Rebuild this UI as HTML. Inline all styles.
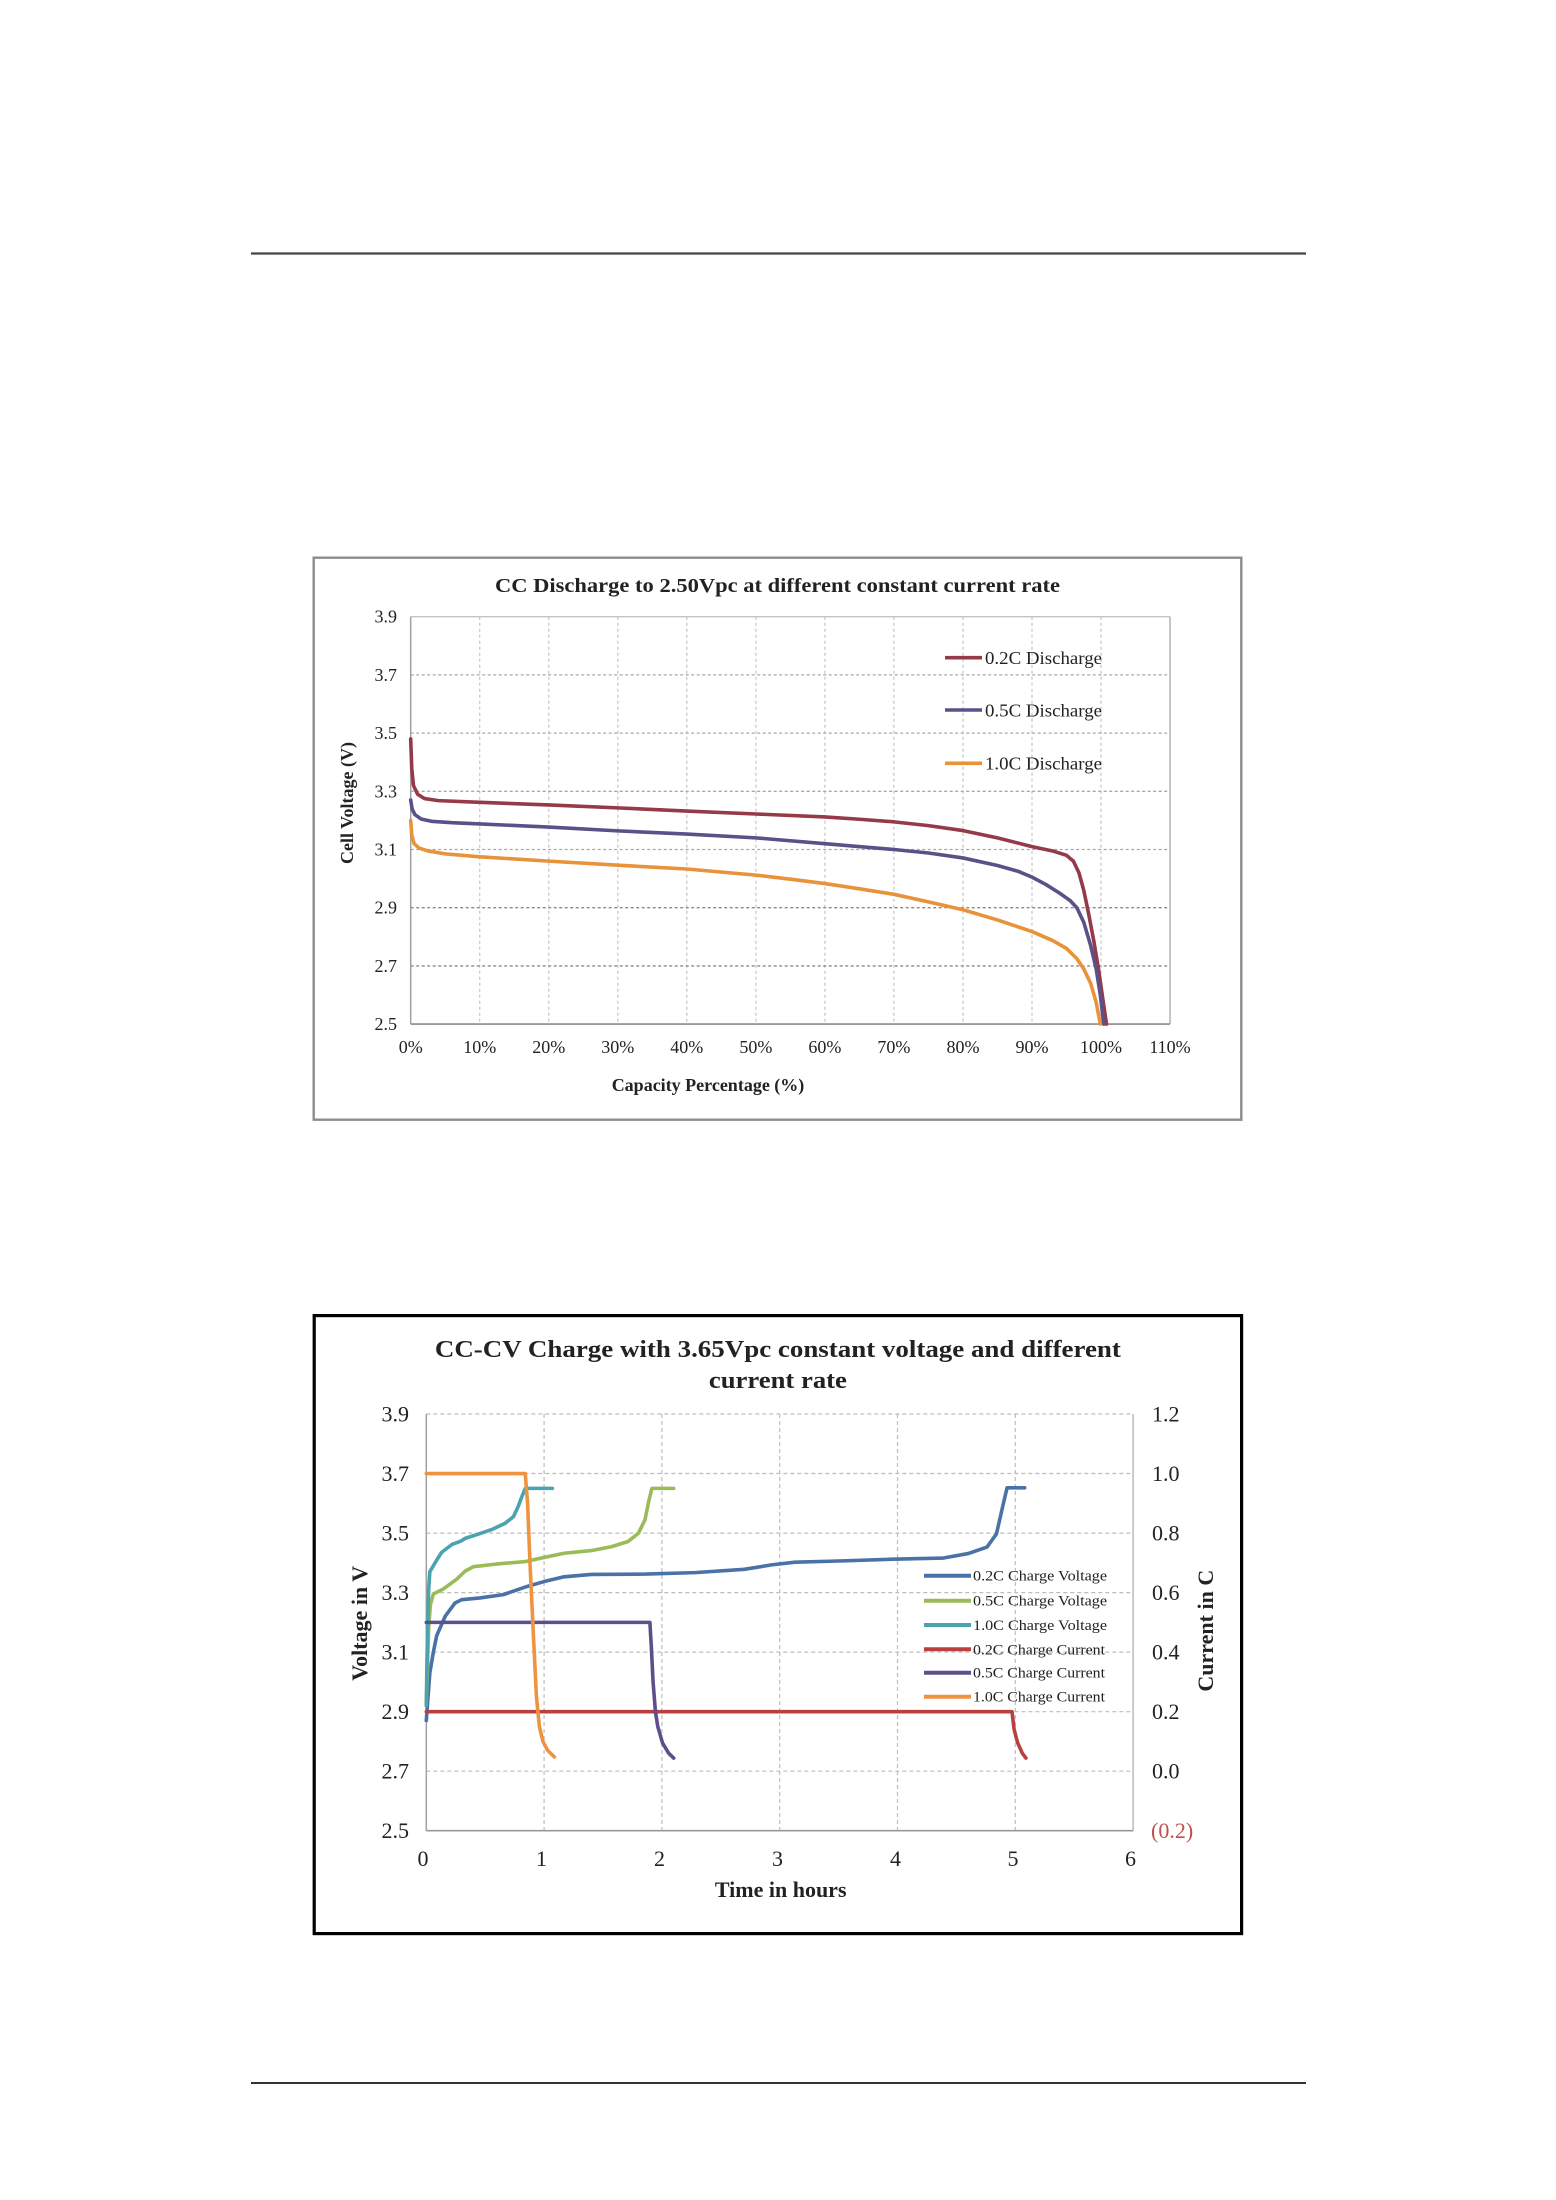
<!DOCTYPE html>
<html>
<head>
<meta charset="utf-8">
<style>
  html, body { margin: 0; padding: 0; background: #ffffff; }
  svg { display: block; }
  text { font-family: "Liberation Serif", "Times New Roman", serif; fill: #222; }
  .b { font-weight: bold; }
</style>
</head>
<body>
<svg width="1556" height="2200" viewBox="0 0 1556 2200" xmlns="http://www.w3.org/2000/svg">
  <rect x="0" y="0" width="1556" height="2200" fill="#ffffff"/>

  <!-- page rules -->
  <line x1="251" y1="253.5" x2="1306" y2="253.5" stroke="#444" stroke-width="2.2"/>
  <line x1="251" y1="2083" x2="1306" y2="2083" stroke="#333" stroke-width="2"/>

  <!-- ================= CHART 1 ================= -->
  <rect x="313.7" y="557.7" width="927.6" height="562" fill="#fff" stroke="#8c8c8c" stroke-width="2.4"/>

  <text class="b" x="777.5" y="592" font-size="20" text-anchor="middle" textLength="565" lengthAdjust="spacingAndGlyphs">CC Discharge to 2.50Vpc at different constant current rate</text>

  <!-- grid -->
  <g stroke="#c4c4c4" stroke-width="1.2" stroke-dasharray="3,3">
    <line x1="479.7" y1="616.7" x2="479.7" y2="1024.1"/>
    <line x1="548.8" y1="616.7" x2="548.8" y2="1024.1"/>
    <line x1="617.8" y1="616.7" x2="617.8" y2="1024.1"/>
    <line x1="686.8" y1="616.7" x2="686.8" y2="1024.1"/>
    <line x1="755.9" y1="616.7" x2="755.9" y2="1024.1"/>
    <line x1="824.9" y1="616.7" x2="824.9" y2="1024.1"/>
    <line x1="893.9" y1="616.7" x2="893.9" y2="1024.1"/>
    <line x1="963.0" y1="616.7" x2="963.0" y2="1024.1"/>
    <line x1="1032.0" y1="616.7" x2="1032.0" y2="1024.1"/>
    <line x1="1101.0" y1="616.7" x2="1101.0" y2="1024.1"/>
  </g>
  <g stroke="#a8a8a8" stroke-width="1.3" stroke-dasharray="3,2.5">
    <line x1="410.7" y1="674.9" x2="1170" y2="674.9"/>
    <line x1="410.7" y1="733.1" x2="1170" y2="733.1"/>
    <line x1="410.7" y1="791.3" x2="1170" y2="791.3"/>
    <line x1="410.7" y1="849.5" x2="1170" y2="849.5"/>
  </g>
  <g stroke="#8a8a8a" stroke-width="1.4" stroke-dasharray="3,2.5">
    <line x1="410.7" y1="907.7" x2="1170" y2="907.7"/>
    <line x1="410.7" y1="965.9" x2="1170" y2="965.9"/>
  </g>
  <line x1="410.7" y1="616.7" x2="1170" y2="616.7" stroke="#bcc6cc" stroke-width="1.3"/>
  <line x1="1170" y1="616.7" x2="1170" y2="1024.1" stroke="#a8a8a8" stroke-width="1.3"/>
  <line x1="410.7" y1="616.7" x2="410.7" y2="1024.1" stroke="#a0a0a0" stroke-width="1.5"/>
  <line x1="410.7" y1="1024.1" x2="1170" y2="1024.1" stroke="#8a8a8a" stroke-width="1.6"/>

  <!-- y tick labels -->
  <g font-size="18" text-anchor="end">
    <text x="397" y="622.7">3.9</text>
    <text x="397" y="680.9">3.7</text>
    <text x="397" y="739.1">3.5</text>
    <text x="397" y="797.3">3.3</text>
    <text x="397" y="855.5">3.1</text>
    <text x="397" y="913.7">2.9</text>
    <text x="397" y="971.9">2.7</text>
    <text x="397" y="1030.1">2.5</text>
  </g>
  <!-- x tick labels -->
  <g font-size="18" text-anchor="middle">
    <text x="410.7" y="1053">0%</text>
    <text x="479.7" y="1053">10%</text>
    <text x="548.8" y="1053">20%</text>
    <text x="617.8" y="1053">30%</text>
    <text x="686.8" y="1053">40%</text>
    <text x="755.9" y="1053">50%</text>
    <text x="824.9" y="1053">60%</text>
    <text x="893.9" y="1053">70%</text>
    <text x="963.0" y="1053">80%</text>
    <text x="1032.0" y="1053">90%</text>
    <text x="1101.0" y="1053">100%</text>
    <text x="1170.0" y="1053">110%</text>
  </g>
  <text class="b" x="708" y="1091" font-size="18" text-anchor="middle">Capacity Percentage (%)</text>
  <text class="b" font-size="18" text-anchor="middle" transform="translate(353,803) rotate(-90)">Cell Voltage (V)</text>

  <!-- curves chart 1 -->
  <g transform="matrix(6.903 0 0 -291.0 410.7 1751.6)" fill="none" stroke-linejoin="round" stroke-linecap="round">
    <polyline vector-effect="non-scaling-stroke" stroke="#953A48" stroke-width="3.6"
      points="0,3.48 0.15,3.38 0.4,3.32 1,3.29 2,3.275 4,3.268 10,3.262 20,3.253 30,3.243 40,3.232 50,3.222 60,3.212 65,3.204 70,3.195 75,3.182 80,3.165 85,3.14 90,3.11 93,3.095 95,3.08 96,3.06 96.8,3.02 97.5,2.96 98.2,2.88 99,2.78 99.7,2.68 100.3,2.58 100.8,2.5"/>
    <polyline vector-effect="non-scaling-stroke" stroke="#5B5088" stroke-width="3.6"
      points="0,3.27 0.2,3.24 0.6,3.22 1.5,3.205 3,3.197 6,3.192 10,3.188 20,3.177 30,3.164 40,3.153 50,3.14 60,3.12 70,3.1 75,3.088 80,3.071 85,3.045 88,3.025 90,3.005 92,2.98 94,2.95 95.5,2.925 96.5,2.9 97.5,2.85 98.5,2.77 99.3,2.69 99.9,2.6 100.4,2.5"/>
    <polyline vector-effect="non-scaling-stroke" stroke="#E8923A" stroke-width="3.6"
      points="0,3.2 0.15,3.15 0.5,3.12 1.2,3.105 2.5,3.095 5,3.085 10,3.075 20,3.06 30,3.046 40,3.033 50,3.012 55,2.998 60,2.983 65,2.965 70,2.946 75,2.92 80,2.893 85,2.858 90,2.818 93,2.787 95,2.76 96.5,2.725 97.5,2.69 98.5,2.64 99.3,2.575 99.9,2.5"/>
  </g>

  <!-- legend chart 1 -->
  <line x1="945" y1="657.7" x2="982" y2="657.7" stroke="#953A48" stroke-width="3.6"/>
  <line x1="945" y1="710" x2="982" y2="710" stroke="#5B5088" stroke-width="3.6"/>
  <line x1="945" y1="763.3" x2="982" y2="763.3" stroke="#E8923A" stroke-width="3.6"/>
  <g font-size="18">
    <text x="985" y="664" textLength="117" lengthAdjust="spacingAndGlyphs">0.2C Discharge</text>
    <text x="985" y="716.3" textLength="117" lengthAdjust="spacingAndGlyphs">0.5C Discharge</text>
    <text x="985" y="769.6" textLength="117" lengthAdjust="spacingAndGlyphs">1.0C Discharge</text>
  </g>

  <!-- ================= CHART 2 ================= -->
  <rect x="314.2" y="1315.6" width="927.4" height="618" fill="#fff" stroke="#000" stroke-width="3.2"/>

  <text class="b" x="777.9" y="1357" font-size="24" text-anchor="middle" textLength="686" lengthAdjust="spacingAndGlyphs">CC-CV Charge with 3.65Vpc constant voltage and different</text>
  <text class="b" x="777.9" y="1388" font-size="24" text-anchor="middle" textLength="138" lengthAdjust="spacingAndGlyphs">current rate</text>

  <!-- grid -->
  <g stroke="#bdbdbd" stroke-width="1.2" stroke-dasharray="4,3">
    <line x1="544.1" y1="1414" x2="544.1" y2="1830.7"/>
    <line x1="661.9" y1="1414" x2="661.9" y2="1830.7"/>
    <line x1="779.7" y1="1414" x2="779.7" y2="1830.7"/>
    <line x1="897.5" y1="1414" x2="897.5" y2="1830.7"/>
    <line x1="1015.3" y1="1414" x2="1015.3" y2="1830.7"/>
    <line x1="426.3" y1="1414" x2="1133.1" y2="1414"/>
    <line x1="426.3" y1="1473.5" x2="1133.1" y2="1473.5"/>
    <line x1="426.3" y1="1533.1" x2="1133.1" y2="1533.1"/>
    <line x1="426.3" y1="1592.6" x2="1133.1" y2="1592.6"/>
    <line x1="426.3" y1="1652.1" x2="1133.1" y2="1652.1"/>
    <line x1="426.3" y1="1711.7" x2="1133.1" y2="1711.7"/>
    <line x1="426.3" y1="1771.2" x2="1133.1" y2="1771.2"/>
  </g>
  <line x1="1133.1" y1="1414" x2="1133.1" y2="1830.7" stroke="#b0b0b0" stroke-width="1.3"/>
  <line x1="426.3" y1="1414" x2="426.3" y2="1830.7" stroke="#a0a0a0" stroke-width="1.5"/>
  <line x1="426.3" y1="1830.7" x2="1133.1" y2="1830.7" stroke="#999" stroke-width="1.6"/>

  <!-- left ticks -->
  <g font-size="22" text-anchor="end">
    <text x="409" y="1421.5">3.9</text>
    <text x="409" y="1481">3.7</text>
    <text x="409" y="1540.6">3.5</text>
    <text x="409" y="1600.1">3.3</text>
    <text x="409" y="1659.6">3.1</text>
    <text x="409" y="1719.2">2.9</text>
    <text x="409" y="1778.7">2.7</text>
    <text x="409" y="1838.2">2.5</text>
  </g>
  <!-- right ticks -->
  <g font-size="22" text-anchor="start">
    <text x="1152" y="1421.5">1.2</text>
    <text x="1152" y="1481">1.0</text>
    <text x="1152" y="1540.6">0.8</text>
    <text x="1152" y="1600.1">0.6</text>
    <text x="1152" y="1659.6">0.4</text>
    <text x="1152" y="1719.2">0.2</text>
    <text x="1152" y="1778.7">0.0</text>
    <text x="1151" y="1838.2" style="fill:#C0504D">(0.2)</text>
  </g>
  <!-- x ticks -->
  <g font-size="22" text-anchor="middle">
    <text x="423" y="1866">0</text>
    <text x="541.5" y="1866">1</text>
    <text x="659.5" y="1866">2</text>
    <text x="777.5" y="1866">3</text>
    <text x="895.5" y="1866">4</text>
    <text x="1013" y="1866">5</text>
    <text x="1130.5" y="1866">6</text>
  </g>
  <text class="b" x="780.7" y="1897" font-size="22" text-anchor="middle">Time in hours</text>
  <text class="b" font-size="22" text-anchor="middle" transform="translate(367,1623.3) rotate(-90)">Voltage in V</text>
  <text class="b" font-size="22" text-anchor="middle" transform="translate(1213,1630.7) rotate(-90)">Current in C</text>

  <!-- voltage curves -->
  <g transform="matrix(117.8 0 0 -297.65 426.3 2574.8)" fill="none" stroke-linejoin="round" stroke-linecap="round">
    <polyline vector-effect="non-scaling-stroke" stroke="#4A72A6" stroke-width="3.6"
      points="0,2.87 0.03,3.03 0.06,3.1 0.088,3.155 0.16,3.22 0.244,3.265 0.3,3.276 0.456,3.282 0.654,3.293 0.852,3.32 1.0,3.337 1.17,3.353 1.4,3.361 1.86,3.362 2.28,3.367 2.7,3.378 2.93,3.393 3.13,3.402 3.5,3.406 3.96,3.412 4.39,3.416 4.6,3.431 4.76,3.453 4.84,3.497 4.89,3.584 4.93,3.652 5.08,3.652"/>
    <polyline vector-effect="non-scaling-stroke" stroke="#9BBB59" stroke-width="3.6"
      points="0,2.93 0.01,3.05 0.02,3.18 0.035,3.26 0.06,3.295 0.145,3.312 0.258,3.345 0.33,3.372 0.4,3.387 0.6,3.396 0.84,3.404 1.0,3.418 1.17,3.432 1.4,3.441 1.57,3.454 1.71,3.471 1.80,3.499 1.856,3.544 1.89,3.61 1.915,3.65 2.1,3.65"/>
    <polyline vector-effect="non-scaling-stroke" stroke="#4AA3AE" stroke-width="3.6"
      points="0,2.92 0.005,3.05 0.012,3.2 0.02,3.31 0.03,3.37 0.06,3.39 0.088,3.409 0.13,3.435 0.173,3.448 0.22,3.462 0.29,3.472 0.33,3.482 0.44,3.496 0.557,3.512 0.67,3.533 0.74,3.555 0.78,3.589 0.817,3.628 0.84,3.65 1.07,3.65"/>
  </g>
  <!-- current curves -->
  <g transform="matrix(117.8 0 0 -297.65 426.3 1771.2)" fill="none" stroke-linejoin="round" stroke-linecap="round">
    <polyline vector-effect="non-scaling-stroke" stroke="#B8403F" stroke-width="3.6"
      points="0,0.2 4.972,0.2 4.99,0.14 5.02,0.095 5.06,0.06 5.09,0.044"/>
    <polyline vector-effect="non-scaling-stroke" stroke="#5E4F8C" stroke-width="3.6"
      points="0,0.5 1.898,0.5 1.91,0.42 1.925,0.3 1.945,0.2 1.965,0.15 2.005,0.095 2.058,0.06 2.1,0.044"/>
    <polyline vector-effect="non-scaling-stroke" stroke="#EE9440" stroke-width="3.6"
      points="0,1.0 0.84,1.0 0.86,0.9 0.88,0.7 0.91,0.45 0.935,0.25 0.96,0.15 0.99,0.1 1.03,0.07 1.087,0.048"/>
  </g>

  <!-- legend chart 2 -->
  <g stroke-width="4">
    <line x1="924" y1="1575.7" x2="971" y2="1575.7" stroke="#4A72A6"/>
    <line x1="924" y1="1600.7" x2="971" y2="1600.7" stroke="#9BBB59"/>
    <line x1="924" y1="1625" x2="971" y2="1625" stroke="#4AA3AE"/>
    <line x1="924" y1="1649.3" x2="971" y2="1649.3" stroke="#B8403F"/>
    <line x1="924" y1="1672.7" x2="971" y2="1672.7" stroke="#5E4F8C"/>
    <line x1="924" y1="1696.7" x2="971" y2="1696.7" stroke="#EE9440"/>
  </g>
  <g font-size="15">
    <text x="973" y="1580.7" textLength="134" lengthAdjust="spacingAndGlyphs">0.2C Charge Voltage</text>
    <text x="973" y="1605.7" textLength="134" lengthAdjust="spacingAndGlyphs">0.5C Charge Voltage</text>
    <text x="973" y="1630" textLength="134" lengthAdjust="spacingAndGlyphs">1.0C Charge Voltage</text>
    <text x="973" y="1654.3" textLength="132" lengthAdjust="spacingAndGlyphs">0.2C Charge Current</text>
    <text x="973" y="1677.7" textLength="132" lengthAdjust="spacingAndGlyphs">0.5C Charge Current</text>
    <text x="973" y="1701.7" textLength="132" lengthAdjust="spacingAndGlyphs">1.0C Charge Current</text>
  </g>
</svg>
</body>
</html>
